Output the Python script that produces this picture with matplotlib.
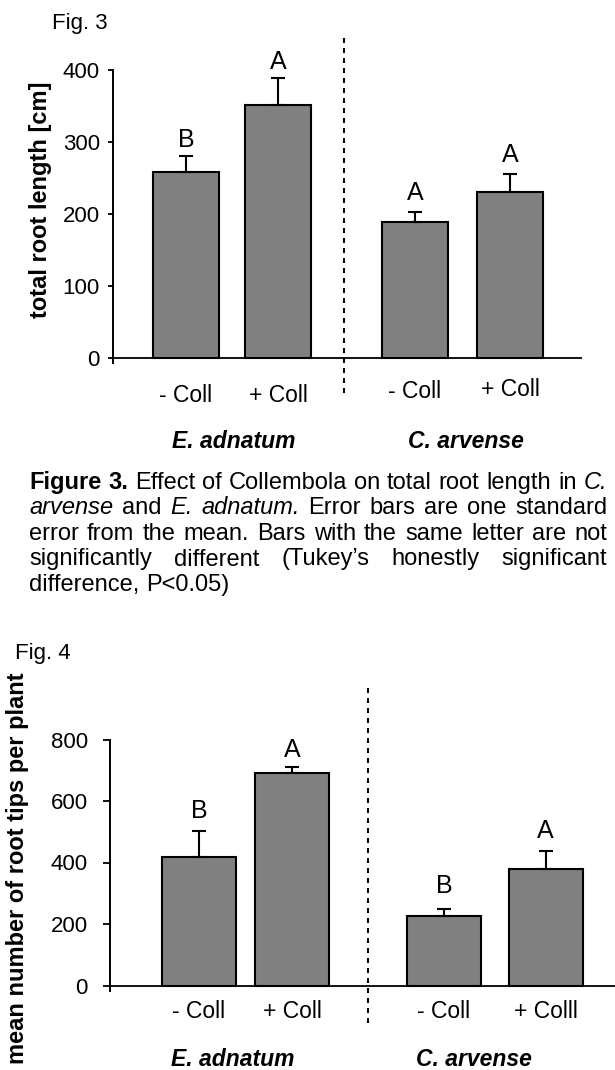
import matplotlib
matplotlib.use('Agg')
import matplotlib.pyplot as plt
from matplotlib.transforms import Affine2D, blended_transform_factory
from matplotlib.lines import Line2D
import numpy as np

plt.rcParams['font.family'] = ['Liberation Sans', 'DejaVu Sans']

# ---------------- data ----------------
treatments_fig3 = ['- Coll', '+ Coll', '- Coll', '+ Coll']
treatments_fig4 = ['- Coll', '+ Coll', '- Coll', '+ Colll']
species = ['E. adnatum', 'C. arvense']
root_length = [258, 351, 189, 231]
root_length_se = [23, 38, 14, 24]
root_length_letters = ['B', 'A', 'A', 'A']
root_tips = [417, 691, 227, 379]
root_tips_se = [84, 21, 21, 58]
root_tips_letters = ['B', 'A', 'B', 'A']
yticks_fig3 = [0, 100, 200, 300, 400]
yticks_fig4 = [0, 200, 400, 600, 800]

caption_lines = [
    "b:Figure b:3. Effect of Collembola on total root length in i:C.",
    "i:arvense and i:E. i:adnatum. Error bars are one standard",
    "error from the mean. Bars with the same letter are not",
    "significantly different (Tukey\u2019s honestly significant",
    "difference, P<0.05)",
]

# ---------------- layout (pixels) ----------------
W, H, DPI = 615, 1070, 100
fig = plt.figure(figsize=(W / DPI, H / DPI), dpi=DPI)
PX = Affine2D().scale(1 / W, -1 / H).translate(0, 1) + fig.transFigure
PT = 72 / DPI  # points per pixel

panels = [
    dict(values=root_length, se=root_length_se, letters=root_length_letters,
         labels=treatments_fig3, yticks=yticks_fig3, ylabel='total root length [cm]',
         left=113, right=582, y0=358, ytop=70, below=5,
         centers=[186, 278, 415, 510], width=66,
         dashed_x=344, dashed_y=(38, 398),
         ticklab_y=[395, 395, 392, 390], group_x=[234, 466], group_y=442,
         letter_off=[16, 16, 19, 19], ylabel_xy=(41, 200), figlabel='Fig. 3',
         figlabel_xy=(52, 23), tick_len=5, tick_pad=8),
    dict(values=root_tips, se=root_tips_se, letters=root_tips_letters,
         labels=treatments_fig4, yticks=yticks_fig4,
         ylabel='mean number of root tips per plant',
         left=110, right=615, y0=985.5, ytop=739.5, below=5,
         centers=[199, 292, 444, 545.5], width=74,
         dashed_x=368, dashed_y=(688, 1028),
         ticklab_y=[1012, 1012, 1012, 1012], group_x=[233, 474], group_y=1059,
         letter_off=[20, 17, 23, 20], ylabel_xy=(18, 868), figlabel='Fig. 4',
         figlabel_xy=(15, 653), tick_len=7, tick_pad=15),
]

for p in panels:
    ymax = p['yticks'][-1]
    pxu = (p['y0'] - p['ytop']) / ymax
    bottom_px = p['y0'] + p['below']
    ax = fig.add_axes([p['left'] / W, 1 - bottom_px / H,
                       (p['right'] - p['left']) / W, (bottom_px - p['ytop']) / H])
    ax.set_xlim(p['left'], p['right'])
    ax.set_ylim(-p['below'] / pxu, ymax)
    ax.patch.set_visible(False)
    for s in ['top', 'right', 'bottom']:
        ax.spines[s].set_visible(False)
    ax.spines['left'].set_linewidth(1.4)
    ax.axhline(0, color='black', lw=1.3, zorder=1)
    ax.set_xticks([])
    ax.set_yticks(p['yticks'])
    ax.tick_params(axis='y', direction='out', length=p['tick_len'] * PT, width=1.3,
                   pad=p['tick_pad'] * PT, labelsize=16)

    vals = np.array(p['values'], dtype=float)
    se = np.array(p['se'], dtype=float)
    ax.bar(p['centers'], vals, width=p['width'], color='#808080',
           edgecolor='black', linewidth=1.5, zorder=2)
    ax.errorbar(p['centers'], vals, yerr=[np.zeros_like(se), se], fmt='none',
                ecolor='black', elinewidth=1.5, capsize=5, capthick=1.5, zorder=3)
    for x, v, e, l, off in zip(p['centers'], vals, se, p['letters'], p['letter_off']):
        ax.annotate(l, (x, v + e), xytext=(0, off * PT),
                    textcoords='offset points', ha='center', va='center',
                    fontsize=18, annotation_clip=False)

    tr = blended_transform_factory(ax.transData, PX)
    for x, ty, lab in zip(p['centers'], p['ticklab_y'], p['labels']):
        ax.text(x, ty, lab, transform=tr, ha='center', va='center', fontsize=16.5)
    for gx, sp in zip(p['group_x'], species):
        fig.text(gx, p['group_y'], sp, transform=PX, ha='center', va='center',
                 fontsize=16.5, fontweight='bold', fontstyle='italic')

    fig.text(p['ylabel_xy'][0], p['ylabel_xy'][1], p['ylabel'], transform=PX,
             rotation=90, ha='center', va='center', fontsize=17, fontweight='bold')
    fig.text(p['figlabel_xy'][0], p['figlabel_xy'][1], p['figlabel'], transform=PX,
             ha='left', va='center', fontsize=16)

    fig.add_artist(Line2D([p['dashed_x'], p['dashed_x']], list(p['dashed_y']),
                          transform=PX, color='black', lw=1.5,
                          linestyle=(0, (2.4, 2.4))))

# ---------------- justified caption ----------------
renderer = fig.canvas.get_renderer()
cap_fs = 17
cap_left, cap_right = 29, 607
base0, line_gap = 489, 25.5

probe1 = fig.text(0, 0, 'a a', fontsize=cap_fs)
probe2 = fig.text(0, 0, 'aa', fontsize=cap_fs)
space_w = (probe1.get_window_extent(renderer).width -
           probe2.get_window_extent(renderer).width)
probe1.remove(); probe2.remove()

for i, line in enumerate(caption_lines):
    y = base0 + i * line_gap
    words = []
    for tok in line.split(' '):
        weight, style = 'normal', 'normal'
        if tok.startswith('b:'):
            weight, tok = 'bold', tok[2:]
        elif tok.startswith('i:'):
            style, tok = 'italic', tok[2:]
        t = fig.text(0, y, tok, transform=PX, ha='left', va='baseline',
                     fontsize=cap_fs, fontweight=weight, fontstyle=style)
        words.append(t)
    widths = [t.get_window_extent(renderer).width for t in words]
    if i < len(caption_lines) - 1 and len(words) > 1:
        gap = (cap_right - cap_left - sum(widths)) / (len(words) - 1)
    else:
        gap = space_w
    x = cap_left
    for t, w in zip(words, widths):
        t.set_position((x, y))
        x += w + gap

fig.savefig('out.png', dpi=DPI)
